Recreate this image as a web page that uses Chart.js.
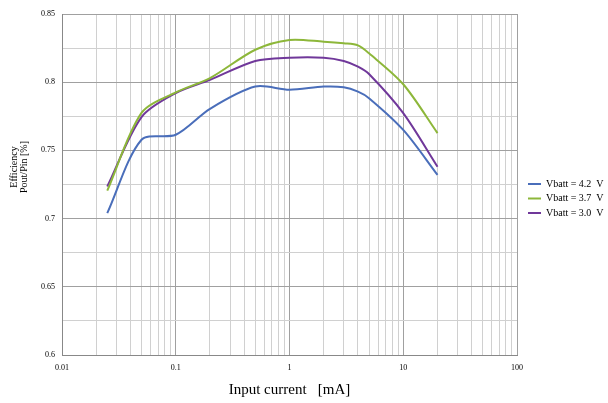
<!DOCTYPE html>
<html>
<head>
<meta charset="utf-8">
<script src="https://cdn.jsdelivr.net/npm/chart.js@4"></script>
<style>
  body { margin: 0; background: #fff; }
  #wrap { width: 608px; height: 403px; }
</style>
</head>
<body>
<div id="wrap"><canvas id="chart-canvas" width="608" height="403"></canvas></div>
<script>
// input current [mA]
const currents = [0.025, 0.05, 0.1, 0.2, 0.5, 1, 2, 3, 4, 5, 10, 20];
const eff42 = [0.704, 0.7578, 0.7615, 0.7805, 0.7968, 0.7945, 0.7968, 0.7963, 0.7931, 0.7883, 0.765, 0.732];
const eff37 = [0.7205, 0.7775, 0.7925, 0.803, 0.8238, 0.831, 0.8297, 0.8285, 0.827, 0.8212, 0.7985, 0.7627];
const eff30 = [0.7235, 0.7744, 0.792, 0.8017, 0.8156, 0.818, 0.818, 0.8156, 0.8114, 0.806, 0.7773, 0.738];
const seriesNames = ["Vbatt = 4.2  V", "Vbatt = 3.7  V", "Vbatt = 3.0  V"];
const xTickLabels = ["0.01", "0.1", "1", "10", "100"];
const yTickLabels = ["0.6", "0.65", "0.7", "0.75", "0.8", "0.85"];

const serif = "'Liberation Serif', 'Times New Roman', serif";
const colors = ["#4a6eba", "#8db73a", "#70389a"];

function pts(vals) {
  return currents.map((c, i) => ({ x: c, y: vals[i] }));
}

const isDecade = v => Math.abs(Math.log10(v) - Math.round(Math.log10(v))) < 1e-6;

// legend on the right, drawn next to the plot area
const sideLegend = {
  id: "sideLegend",
  afterDraw(chart) {
    const c = chart.ctx;
    const x0 = chart.chartArea.right + 11;
    c.save();
    c.font = "10px " + serif;
    c.textBaseline = "middle";
    c.fillStyle = "#000";
    chart.data.datasets.forEach((ds, i) => {
      const y = 184 + i * 14.5;
      c.strokeStyle = ds.borderColor;
      c.lineWidth = 2;
      c.beginPath();
      c.moveTo(x0, y);
      c.lineTo(x0 + 13, y);
      c.stroke();
      c.fillText(ds.label, x0 + 18, y);
    });
    c.restore();
  }
};

const ctx = document.getElementById("chart-canvas").getContext("2d");
new Chart(ctx, {
  type: "line",
  data: {
    datasets: [eff42, eff37, eff30].map((vals, i) => ({
      label: seriesNames[i],
      data: pts(vals),
      borderColor: colors[i],
      backgroundColor: colors[i],
      borderWidth: 2,
      pointRadius: 0,
      tension: 0.3,
      fill: false
    }))
  },
  plugins: [sideLegend],
  options: {
    responsive: false,
    animation: false,
    layout: { padding: { top: 14, right: 91, left: 0, bottom: 0 } },
    plugins: {
      tooltip: { enabled: false },
      legend: { display: false }
    },
    scales: {
      x: {
        type: "logarithmic",
        min: 0.01,
        max: 100,
        afterBuildTicks(scale) {
          const t = [];
          for (let e = -2; e < 2; e++) {
            for (let m = 1; m < 10; m++) t.push({ value: m * Math.pow(10, e) });
          }
          t.push({ value: 100 });
          scale.ticks = t;
        },
        afterFit(scale) { scale.height = 48; },
        grid: {
          drawTicks: false,
          color: c => (c.tick && isDecade(c.tick.value) ? "#a0a0a0" : "#d0d0d0"),
          lineWidth: 1
        },
        border: { color: "#888", width: 1 },
        ticks: {
          autoSkip: false,
          maxRotation: 0,
          padding: 8,
          color: "#000",
          font: { family: serif, size: 8 },
          callback: v => (isDecade(v) ? xTickLabels[Math.round(Math.log10(v)) + 2] : "")
        },
        title: {
          display: true,
          text: "Input current   [mA]",
          color: "#000",
          font: { family: serif, size: 15 },
          padding: { top: 4, bottom: 4 }
        }
      },
      y: {
        min: 0.6,
        max: 0.85,
        afterFit(scale) { scale.width = 62; },
        grid: {
          drawTicks: false,
          color: c => (c.index % 2 === 0 ? "#a0a0a0" : "#d0d0d0"),
          lineWidth: 1
        },
        border: { color: "#888", width: 1 },
        ticks: {
          stepSize: 0.025,
          padding: 7,
          color: "#000",
          font: { family: serif, size: 8 },
          callback: (v, i) => (i % 2 === 0 ? yTickLabels[i / 2] : "")
        },
        title: {
          display: true,
          // leading spaces lift the centred title a little, as in the original
          text: ["              Efficiency", "              Pout/Pin [%]"],
          color: "#000",
          font: { family: serif, size: 10, lineHeight: 1.05 },
          padding: { top: 9, bottom: 0 }
        }
      }
    }
  }
});
</script>
</body>
</html>
